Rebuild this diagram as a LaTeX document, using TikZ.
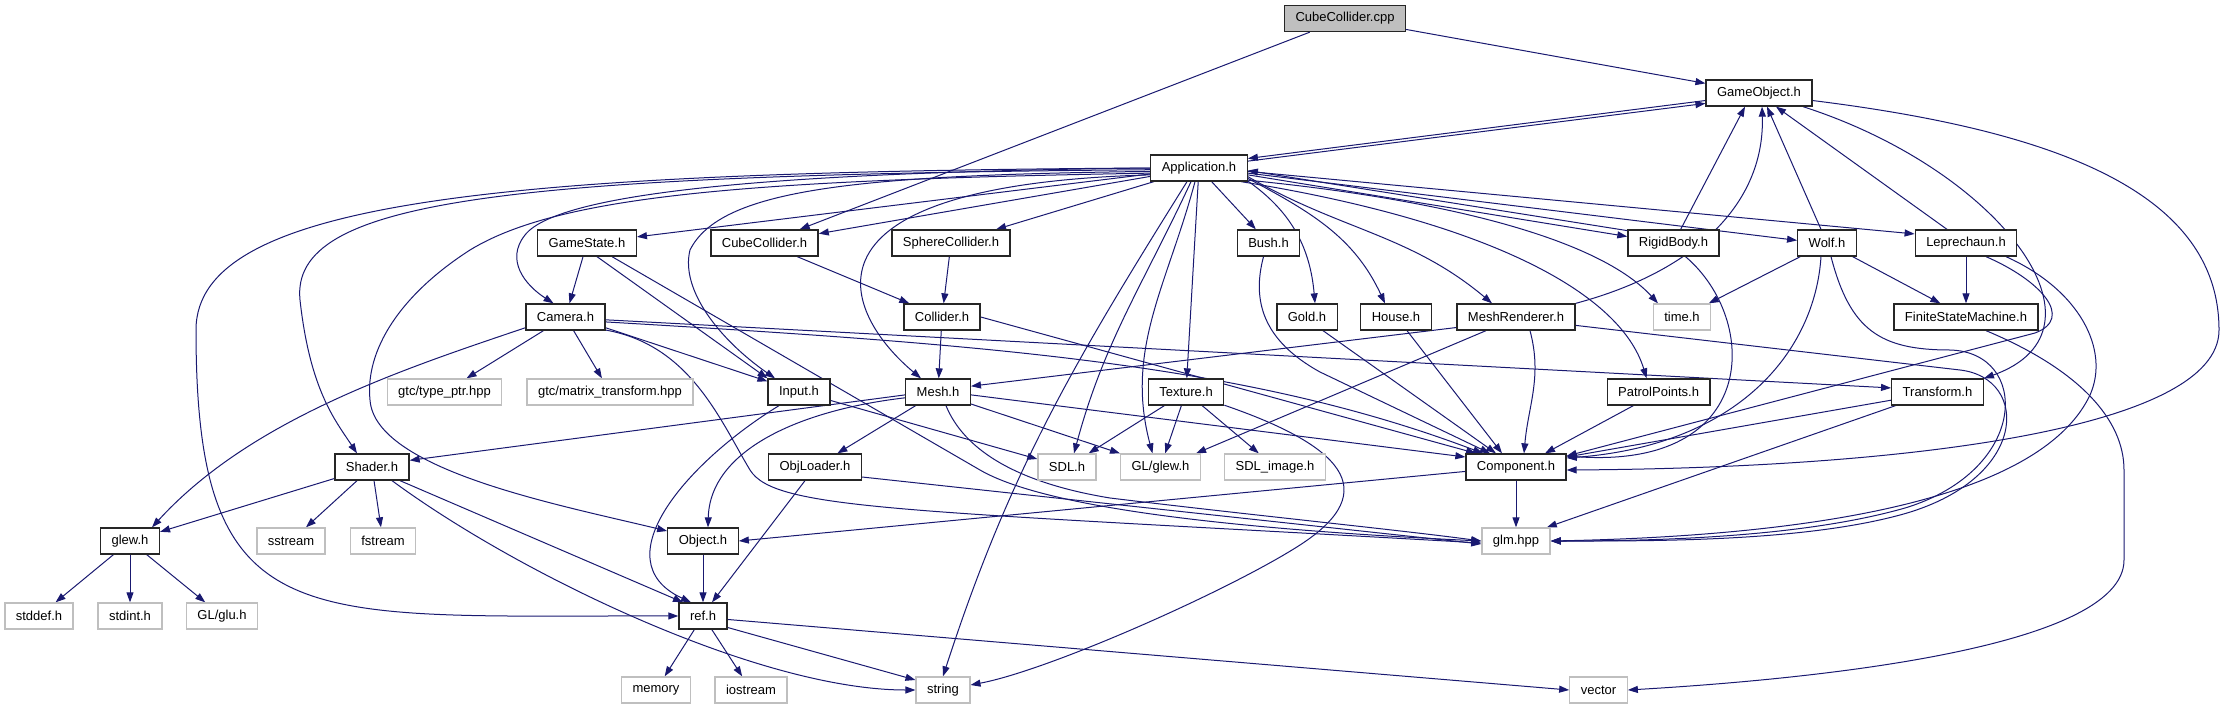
\documentclass[tikz,border=0pt]{standalone}
\usepackage{fontspec}
\setmainfont{Liberation Sans}
\usetikzlibrary{arrows.meta,backgrounds}
\definecolor{depblue}{HTML}{191970}

\begin{document}
\begin{tikzpicture}[x=1pt,y=-1pt,>={Triangle[length=10pt,width=7pt]},
  hfile/.style={draw=black!85,line width=1.3pt,fill=white,minimum height=26pt,
    inner xsep=11pt,inner ysep=0pt,font=\fontsize{13pt}{15pt}\selectfont},
  sysfile/.style={hfile,draw=gray!50},
  rootfile/.style={hfile,fill=gray!50},
  dep/.style={->,draw=depblue,line width=1pt}]
  \useasboundingbox (0,0) rectangle (2225,709);

  % files
  \node[rootfile] (cpp) at (1345,18.5) {CubeCollider.cpp};
  \node[hfile] (go) at (1759,93) {GameObject.h};
  \node[hfile] (app) at (1199,168) {Application.h};
  \node[hfile] (gs) at (587,243) {GameState.h};
  \node[hfile] (cch) at (764.5,243) {CubeCollider.h};
  \node[hfile] (sch) at (951,243) {SphereCollider.h};
  \node[hfile] (bush) at (1268.5,243) {Bush.h};
  \node[hfile] (rb) at (1673.5,243) {RigidBody.h};
  \node[hfile] (wolf) at (1827,243) {Wolf.h};
  \node[hfile] (lep) at (1966,243) {Leprechaun.h};
  \node[hfile] (cam) at (565.5,317) {Camera.h};
  \node[hfile] (col) at (942,317) {Collider.h};
  \node[hfile] (gold) at (1307,317) {Gold.h};
  \node[hfile] (house) at (1396,317) {House.h};
  \node[hfile] (mr) at (1516,317) {MeshRenderer.h};
  \node[sysfile] (timeh) at (1682,317) {time.h};
  \node[hfile] (fsm) at (1966,317) {FiniteStateMachine.h};
  \node[sysfile] (typeptr) at (444.5,392) {gtc/type\_ptr.hpp};
  \node[sysfile] (mattr) at (610,392) {gtc/matrix\_transform.hpp};
  \node[hfile] (input) at (799,392) {Input.h};
  \node[hfile] (mesh) at (938,392) {Mesh.h};
  \node[hfile] (tex) at (1186,392) {Texture.h};
  \node[hfile] (pp) at (1658.6,392) {PatrolPoints.h};
  \node[hfile] (tr) at (1937.5,392) {Transform.h};
  \node[hfile] (shader) at (372,467) {Shader.h};
  \node[hfile] (objl) at (815,467) {ObjLoader.h};
  \node[sysfile] (sdl) at (1067,467) {SDL.h};
  \node[sysfile] (glglew) at (1160.5,467) {GL/glew.h};
  \node[sysfile] (sdlimg) at (1275,467) {SDL\_image.h};
  \node[hfile] (comp) at (1516,467) {Component.h};
  \node[hfile] (glew) at (130,541) {glew.h};
  \node[sysfile] (sstream) at (291,541) {sstream};
  \node[sysfile] (fstream) at (383,541) {fstream};
  \node[hfile] (obj) at (703,541) {Object.h};
  \node[sysfile] (glm) at (1516,541) {glm.hpp};
  \node[sysfile] (stddef) at (39,616) {stddef.h};
  \node[sysfile] (stdint) at (130,616) {stdint.h};
  \node[sysfile] (glu) at (222,616) {GL/glu.h};
  \node[hfile] (ref) at (703,616) {ref.h};
  \node[sysfile] (memory) at (656,690) {memory};
  \node[sysfile] (iostream) at (751,690) {iostream};
  \node[sysfile] (string) at (943,690) {string};
  \node[sysfile] (vector) at (1598.5,690) {vector};

  \begin{scope}[on background layer]
  % CubeCollider.cpp
  \draw[dep] (cpp) -- (go);
  \draw[dep] (cpp) -- (cch);
  % Application.h
  \draw[dep] (app.8) -- (go.191);
  \draw[dep] (go.188) -- (app.11);
  \draw[dep] (app) -- (gs);
  \draw[dep] (app) -- (cch);
  \draw[dep] (app) -- (sch);
  \draw[dep] (app) -- (bush);
  \draw[dep] (app) -- (tex);
  \draw[dep] (app.-15) to[out=-35,in=95] ([xshift=8pt]gold.north);
  \draw[dep] (app.-12) to[out=-28,in=115] ([xshift=-11pt]house.north);
  \draw[dep] (app.-10) to[out=-30,in=140] ([xshift=-24pt]mr.north);
  \draw[dep] (app.-8) -- (rb.172);
  \draw[dep] (rb.165) -- (app.-3);
  \draw[dep] (app.-6) -- (wolf.175);
  \draw[dep] (app.-4) -- (lep.170);
  \draw[dep] (app.-14) .. controls (1450,200) and (1600,240) .. ([xshift=-24pt]timeh.north);
  \draw[dep] (app.-18) .. controls (1480,220) and (1620,290) .. ([xshift=-12pt]pp.north);
  \draw[dep] ([xshift=-12pt]app.south) to[out=-122,in=72] (string.north);
  \draw[dep] ([xshift=-8pt]app.south) to[out=-115,in=75] ([xshift=7pt]sdl.north);
  \draw[dep] ([xshift=-4pt]app.south) to[out=-105,in=105] ([xshift=-8pt]glglew.north);
  \draw[dep] (app.west) .. controls (800,172) and (560,190) .. (525,235)
    .. controls (505,260) and (525,285) .. ([xshift=-12pt]cam.north);
  \draw[dep] (app.184) .. controls (850,175) and (720,190) .. (690,250)
    .. controls (680,290) and (720,340) .. ([xshift=-24pt]input.north);
  \draw[dep] (app.188) .. controls (780,185) and (845,315) .. ([xshift=-17pt]mesh.north);
  \draw[dep] (app.182) .. controls (500,175) and (290,200) .. (300,300)
    .. controls (310,390) and (335,420) .. ([xshift=-15pt]shader.north);
  \draw[dep] (app.186) .. controls (750,180) and (560,195) .. (470,250)
    .. controls (400,295) and (365,350) .. (370,400)
    .. controls (375,470) and (560,505) .. ([yshift=10pt]obj.west);
  \draw[dep] (app.180) .. controls (500,172) and (196,200) .. (196,330)
    .. controls (196,640) and (300,615) .. (ref.west);
  % GameObject.h
  \draw[dep] (go.-8) .. controls (2050,130) and (2219,190) .. (2219,330)
    .. controls (2219,430) and (1900,468) .. ([yshift=-3pt]comp.east);
  \draw[dep] ([xshift=44pt]go.south) .. controls (2000,170) and (2120,330) .. (tr.north east);
  % GameState.h
  \draw[dep] (gs) -- (cam);
  \draw[dep] ([xshift=10pt]gs.south) -- (input.north west);
  \draw[dep] ([xshift=25pt]gs.south) -- (980,470)
    .. controls (1049,510) and (1250,530) .. (glm.west);
  % colliders
  \draw[dep] (cch) -- (col);
  \draw[dep] (sch) -- (col);
  \draw[dep] (col) -- (mesh);
  \draw[dep] (col.east) -- ([xshift=-40pt]comp.north);
  % Camera.h
  \draw[dep] (cam) -- (typeptr);
  \draw[dep] (cam) -- (mattr);
  \draw[dep] (cam.-15) -- ([yshift=-3pt]input.north west);
  \draw[dep] (cam.195) .. controls (400,370) and (250,420) .. ([xshift=22pt]glew.north);
  \draw[dep] (cam.-4) -- (tr.175);
  \draw[dep] (cam.-7) .. controls (1000,345) and (1250,365) .. ([xshift=-33pt]comp.north);
  \draw[dep] (cam.-18) .. controls (690,345) and (720,420) .. (750,470)
    .. controls (775,510) and (900,510) .. ([yshift=-2pt]glm.west);
  % Bush.h, Gold.h, House.h
  \draw[dep] ([xshift=-5pt]bush.south) .. controls (1252,300) and (1262,340) .. (1320,372)
    -- ([xshift=-26pt]comp.north);
  \draw[dep] ([xshift=16pt]gold.south) -- ([xshift=-20pt]comp.north);
  \draw[dep] ([xshift=11pt]house.south) -- ([xshift=-14pt]comp.north);
  % MeshRenderer.h
  \draw[dep] (mr.north east) .. controls (1700,270) and (1765,200) .. ([xshift=3pt]go.south);
  \draw[dep] ([xshift=14pt]mr.south) to[out=-75,in=85] ([xshift=8pt]comp.north);
  \draw[dep] (mr.190) -- (mesh.10);
  \draw[dep] ([xshift=-30pt]mr.south) -- ([xshift=-5pt]glglew.north east);
  \draw[dep] (mr.-8) -- (1960,370) .. controls (2030,378) and (2030,480) .. (1900,515)
    .. controls (1800,542) and (1650,541) .. (glm.east);
  % RigidBody.h
  \draw[dep] (rb) -- ([xshift=-14pt]go.south);
  \draw[dep] ([xshift=12pt]rb.south) .. controls (1760,320) and (1760,470) .. ([yshift=11pt]comp.east);
  % Wolf.h
  \draw[dep] (wolf) -- ([xshift=8pt]go.south);
  \draw[dep] (wolf) -- (timeh);
  \draw[dep] (wolf) -- (fsm);
  \draw[dep] ([xshift=-6pt]wolf.south) .. controls (1815,350) and (1740,445) .. ([yshift=9pt]comp.east);
  \draw[dep] ([xshift=4pt]wolf.south) .. controls (1850,330) and (1880,350) .. (1950,350)
    .. controls (2030,352) and (2030,470) .. (1905,508)
    .. controls (1800,538) and (1650,541) .. (glm.east);
  % Leprechaun.h
  \draw[dep] (lep) -- ([xshift=17pt]go.south);
  \draw[dep] (lep) -- (fsm);
  \draw[dep] ([xshift=20pt]lep.south) .. controls (2040,280) and (2075,318) .. (2035,333)
    -- ([yshift=11pt]comp.east);
  \draw[dep] ([xshift=40pt]lep.south) .. controls (2080,290) and (2110,350) .. (2090,395)
    .. controls (2045,490) and (1850,535) .. (glm.east);
  % FiniteStateMachine.h
  \draw[dep] ([xshift=20pt]fsm.south) .. controls (2080,370) and (2124,420) .. (2124,470)
    -- (2124,560) .. controls (2124,650) and (1800,680) .. (vector.east);
  % PatrolPoints.h, Transform.h
  \draw[dep] (pp) -- ([xshift=29pt]comp.north);
  \draw[dep] (tr.190) -- ([yshift=10pt]comp.east);
  \draw[dep] ([xshift=-42pt]tr.south) -- ([xshift=-4pt]glm.north east);
  % Mesh.h
  \draw[dep] (mesh.185) -- (shader.10);
  \draw[dep] (mesh) -- (objl);
  \draw[dep] (mesh.190) .. controls (800,410) and (710,450) .. ([xshift=5pt]obj.north);
  \draw[dep] (mesh.-20) -- (glglew.north west);
  \draw[dep] (mesh.-5) -- ([yshift=10pt]comp.west);
  \draw[dep] ([xshift=8pt]mesh.south) .. controls (960,440) and (1000,480) .. (1110,498)
    .. controls (1250,515) and (1400,530) .. (glm.west);
  % Input.h, ObjLoader.h
  \draw[dep] (input.-15) -- (sdl.165);
  \draw[dep] ([xshift=-20pt]input.south) .. controls (690,460) and (600,560) .. ([xshift=-12pt]ref.north);
  \draw[dep] ([xshift=-10pt]objl.south) -- ([xshift=9pt]ref.north);
  \draw[dep] (objl.-12) -- ([yshift=-3pt]glm.west);
  % Texture.h
  \draw[dep] (tex) -- (sdl);
  \draw[dep] (tex) -- (glglew);
  \draw[dep] (tex) -- (sdlimg);
  \draw[dep] (tex.-19) .. controls (1340,445) and (1385,490) .. (1300,545)
    .. controls (1230,590) and (1050,670) .. ([yshift=5pt]string.east);
  % Shader.h
  \draw[dep] (shader) -- (glew);
  \draw[dep] (shader) -- (sstream);
  \draw[dep] (shader) -- (fstream);
  \draw[dep] ([xshift=28pt]shader.south) -- ([xshift=-20pt]ref.north);
  \draw[dep] ([xshift=20pt]shader.south) .. controls (520,575) and (760,690) .. (string.west);
  % glew.h
  \draw[dep] (glew) -- (stddef);
  \draw[dep] (glew) -- (stdint);
  \draw[dep] (glew) -- (glu);
  % Component.h, Object.h, ref.h
  \draw[dep] (comp.185) -- (obj.east);
  \draw[dep] (comp) -- (glm);
  \draw[dep] (obj) -- (ref);
  \draw[dep] (ref) -- (memory);
  \draw[dep] (ref) -- (iostream);
  \draw[dep] (ref.-25) -- ([yshift=10pt]string.west);
  \draw[dep] (ref.-8) -- (vector.west);
  \end{scope}
\end{tikzpicture}
\end{document}
